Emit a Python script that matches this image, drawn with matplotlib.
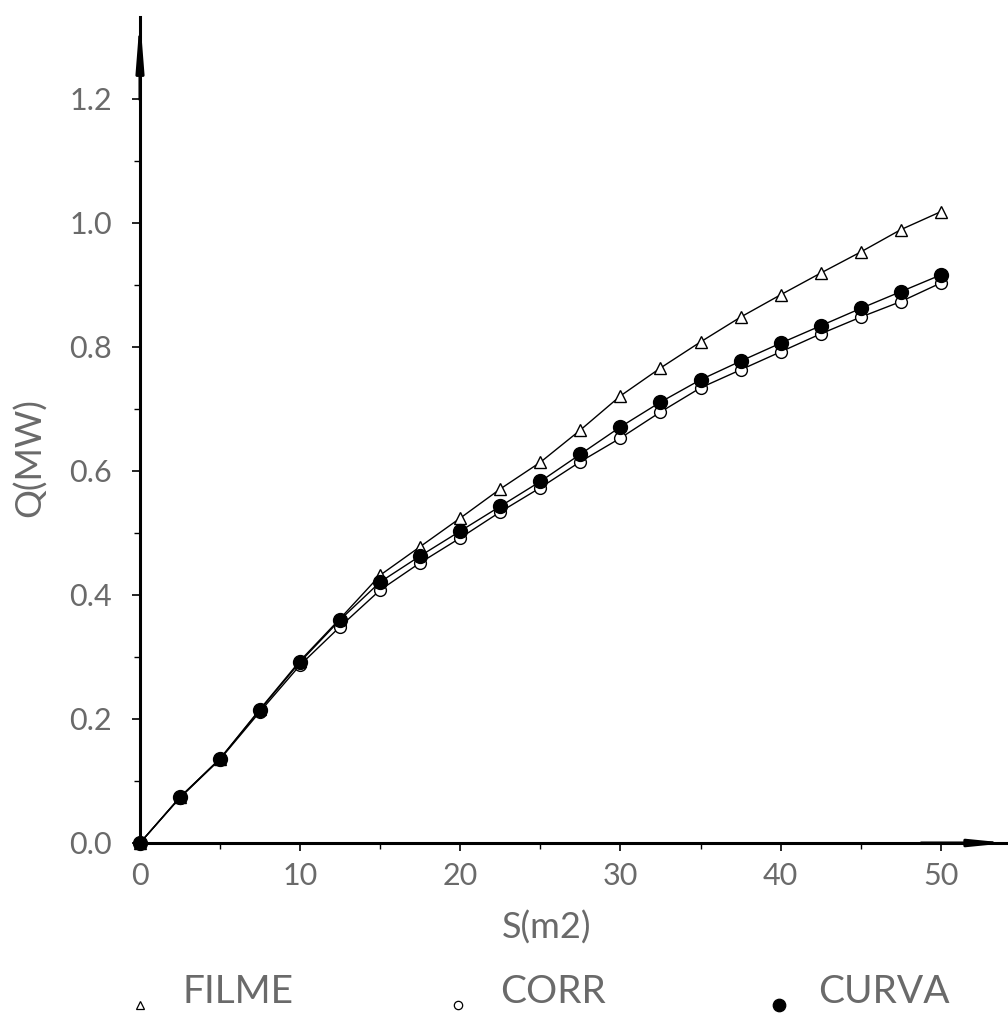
"""Heat duty Q versus exchange area S for three models (FILME, CORR, CURVA)."""

import matplotlib

matplotlib.use("Agg")
import matplotlib.pyplot as plt
from matplotlib.lines import Line2D

S_M2 = [0, 2.5, 5, 7.5, 10, 12.5, 15, 17.5, 20, 22.5, 25,
        27.5, 30, 32.5, 35, 37.5, 40, 42.5, 45, 47.5, 50]
Q_FILME = [0.0, 0.074, 0.136, 0.216, 0.294, 0.362, 0.432, 0.478, 0.524, 0.571, 0.614,
           0.666, 0.721, 0.766, 0.808, 0.848, 0.884, 0.919, 0.953, 0.989, 1.018]
Q_CORR = [0.0, 0.073, 0.135, 0.212, 0.287, 0.349, 0.408, 0.452, 0.492, 0.534, 0.573,
          0.615, 0.653, 0.695, 0.734, 0.763, 0.792, 0.821, 0.848, 0.873, 0.903]
Q_CURVA = [0.0, 0.074, 0.136, 0.215, 0.292, 0.360, 0.421, 0.463, 0.503, 0.543, 0.583,
           0.627, 0.671, 0.711, 0.747, 0.777, 0.806, 0.834, 0.862, 0.889, 0.916]

X_TICKS = [0, 10, 20, 30, 40, 50]
Y_TICKS = [0.0, 0.2, 0.4, 0.6, 0.8, 1.0, 1.2]
X_MAX = 54.2
Y_MAX = 1.332

TEXT_COLOR = "#6a6a6a"
FONT = ["Lato", "DejaVu Sans"]

plt.rcParams["font.family"] = FONT

W, H = 1008, 1018
fig = plt.figure(figsize=(W / 100, H / 100), dpi=100)
ax = fig.add_axes([140 / W, (H - 843) / H, (1008 - 140) / W, 826 / H])

ax.plot(S_M2, Q_CORR, color="black", linewidth=1.0, marker="o", markersize=8.5,
        markerfacecolor="white", markeredgecolor="black", markeredgewidth=1.0,
        clip_on=False, zorder=3)
ax.plot(S_M2, Q_FILME, color="black", linewidth=1.0, marker="^", markersize=9,
        markerfacecolor="white", markeredgecolor="black", markeredgewidth=1.0,
        clip_on=False, zorder=4)
ax.plot(S_M2, Q_CURVA, color="black", linewidth=1.0, marker="o", markersize=10,
        markerfacecolor="black", markeredgecolor="black",
        clip_on=False, zorder=5)

ax.set_xlim(0, X_MAX)
ax.set_ylim(0, Y_MAX)

for side in ("top", "right"):
    ax.spines[side].set_visible(False)
for side in ("left", "bottom"):
    ax.spines[side].set_linewidth(2.2)

arrow_y = dict(arrowstyle="-|>,head_length=2.8,head_width=0.22", color="black",
               linewidth=2.2, mutation_scale=10, shrinkA=0, shrinkB=0)
arrow_x = dict(arrowstyle="-|>,head_length=2.0,head_width=0.2", color="black",
               linewidth=2.2, mutation_scale=10, shrinkA=0, shrinkB=0)
ax.annotate("", xy=(X_MAX, 0), xytext=(X_MAX * 0.9, 0), arrowprops=arrow_x,
            annotation_clip=False)
ax.annotate("", xy=(0, Y_MAX), xytext=(0, Y_MAX * 0.9), arrowprops=arrow_y,
            annotation_clip=False)

ax.set_xticks(X_TICKS)
ax.set_xticks([5, 15, 25, 35, 45], minor=True)
ax.set_xticklabels([str(v) for v in X_TICKS])
ax.set_yticks(Y_TICKS)
ax.set_yticks([0.1, 0.3, 0.5, 0.7, 0.9, 1.1], minor=True)
ax.set_yticklabels([f"{v:.1f}" for v in Y_TICKS])

ax.tick_params(axis="both", which="major", direction="out", length=6, width=1.2,
               labelsize=22, labelcolor=TEXT_COLOR)
ax.tick_params(axis="both", which="minor", direction="out", length=4, width=1.0)
ax.tick_params(axis="x", which="major", pad=8)
ax.tick_params(axis="y", which="major", pad=14)

fig.text(547 / W, 1 - 928 / H, "S(m2)", ha="center", va="center",
         fontsize=26, color=TEXT_COLOR)
fig.text(30 / W, 1 - 458 / H, "Q(MW)", ha="center", va="center",
         rotation=90, fontsize=26, color=TEXT_COLOR)

legend_items = [
    (140, "^", 6, "white", "FILME", 182),
    (458, "o", 6, "white", "CORR", 500),
    (779, "o", 9, "black", "CURVA", 818),
]
for mx, marker, size, face, label, tx in legend_items:
    fig.add_artist(Line2D([mx / W], [1 - 1005 / H], marker=marker, markersize=size,
                          markerfacecolor=face, markeredgecolor="black",
                          markeredgewidth=0.9, linestyle="none",
                          transform=fig.transFigure))
    fig.text(tx / W, 1 - 992 / H, label, ha="left", va="center",
             fontsize=28, color=TEXT_COLOR)

fig.savefig("out.png", dpi=100)
